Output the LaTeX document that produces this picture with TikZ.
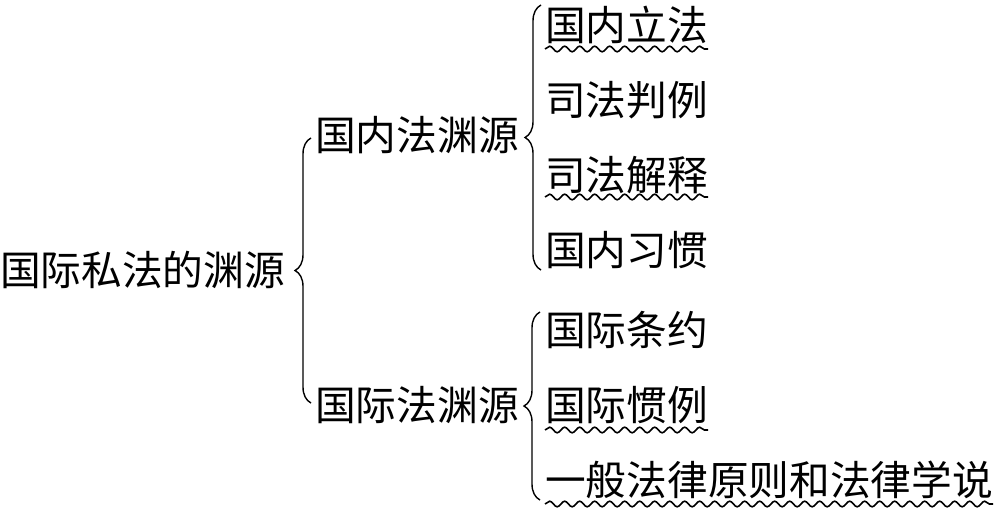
\documentclass[tikz,border=0pt]{standalone}
\usepackage{fontspec}
\newfontfamily\cjk{Noto Sans CJK SC}
\usetikzlibrary{decorations.pathreplacing,decorations.pathmorphing}
\tikzset{
	item/.style={anchor=west, inner sep=0pt, font=\cjk\fontsize{40.7}{40.7}\selectfont},
	bracer/.style={decorate, decoration={brace, amplitude=16pt}, line width=1.4pt},
	wavy/.style={decorate, decoration={snake, segment length=15pt, amplitude=2.8pt}, line width=1.6pt},
}

\begin{document}
\begin{tikzpicture}[x=1pt, y=-1pt]
		\useasboundingbox (0, 0) rectangle (1002, 514);
		
		%%%%% ROOT %%%%%
		\node[item] (root) at (0, 270) {国际私法的渊源};
		\draw[bracer] (311, 403) -- (311, 138);
		
		\node[item] (dom) at (315, 135) {国内法渊源};
		\node[item] (intl) at (315, 405) {国际法渊源};
		
		%%%%% DOMESTIC %%%%%
		\draw[bracer] (541, 270) -- (541, 5);
		\node[item] (law) at (545, 25) {国内立法};
		\node[item] (case) at (545, 100) {司法判例};
		\node[item] (interp) at (545, 175) {司法解释};
		\node[item] (custom) at (545, 250) {国内习惯};
		
		%%%%% INTERNATIONAL %%%%%
		\draw[bracer] (540, 500) -- (540, 312);
		\node[item] (treaty) at (545, 330) {国际条约};
		\node[item] (usage) at (545, 405) {国际惯例};
		\node[item] (doctrine) at (545, 480) {一般法律原则和法律学说};
		
		%%%%% UNDERLINES %%%%%
		\draw[wavy] ([yshift=-24pt]law.west) -- ([yshift=-24pt]law.east);
		\draw[wavy] ([yshift=-22pt]interp.west) -- ([yshift=-22pt]interp.east);
		\draw[wavy] ([yshift=-25pt]usage.west) -- ([yshift=-25pt]usage.east);
		\draw[wavy] ([yshift=-24pt]doctrine.west) -- ([yshift=-24pt]doctrine.east);
	\end{tikzpicture}
\end{document}
